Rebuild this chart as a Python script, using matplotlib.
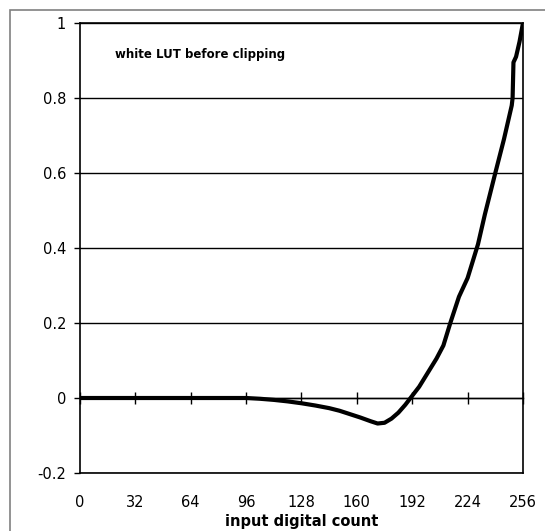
import matplotlib

matplotlib.use("Agg")
import matplotlib.pyplot as plt
from matplotlib.patches import Rectangle

# white LUT before clipping
digital_count = [0, 32, 64, 96, 104, 112, 120, 128, 136, 144, 150, 156, 162,
                 168, 172, 176, 180, 184, 188, 191, 196, 202, 206, 210, 214,
                 219, 224, 227, 230, 234, 237, 240, 245, 249.5, 250, 250.5,
                 252, 254, 256]
lut_value = [0.0, 0.0, 0.0, 0.0, -0.002, -0.005, -0.009, -0.014, -0.02,
             -0.027, -0.034, -0.043, -0.052, -0.062, -0.068, -0.066, -0.055,
             -0.039, -0.018, 0.0, 0.03, 0.075, 0.105, 0.14, 0.2, 0.27, 0.32,
             0.365, 0.41, 0.49, 0.545, 0.6, 0.69, 0.78, 0.8, 0.895, 0.91,
             0.95, 1.0]

x_ticks = [0, 32, 64, 96, 128, 160, 192, 224, 256]
y_ticks = [-0.2, 0, 0.2, 0.4, 0.6, 0.8, 1]
y_tick_labels = ["-0.2", "0", "0.2", "0.4", "0.6", "0.8", "1"]


def main() -> None:
    plt.rcParams["font.family"] = ["DejaVu Sans"]
    fig = plt.figure(figsize=(5.45, 5.31), dpi=100)
    ax = fig.add_axes([0.1468, 0.1092, 0.8128, 0.8475])

    # grey chart-area frame (right and bottom fall outside the picture)
    fig.patches.append(Rectangle((10 / 545, -0.1), 1.2, 521 / 531 + 0.1,
                                 transform=fig.transFigure, fill=False,
                                 edgecolor="#808080", linewidth=1.2))

    ax.plot(digital_count, lut_value, color="black", linewidth=3,
            solid_joinstyle="round", zorder=3)

    ax.set_xlim(0, 256)
    ax.set_ylim(-0.2, 1)
    ax.set_yticks(y_ticks)
    ax.set_yticklabels(y_tick_labels)
    ax.set_xticks(x_ticks)
    ax.tick_params(axis="x", length=0, pad=16, labelsize=10.5)
    ax.tick_params(axis="y", length=4, width=1, pad=6, labelsize=10.5,
                   direction="out")
    ax.grid(axis="y", color="black", linewidth=1)
    for s in ax.spines.values():
        s.set_linewidth(1.2)

    # tick marks crossing the zero line
    zero_axis = ax.secondary_xaxis(0.2 / 1.2)
    zero_axis.set_xticks(x_ticks)
    zero_axis.tick_params(axis="x", direction="inout", length=8, width=1,
                          labelbottom=False)
    zero_axis.spines["bottom"].set_linewidth(1)

    ax.set_xlabel("input digital count", fontsize=10.5, fontweight="bold",
                  labelpad=2.5)
    ax.text(0.079, 0.929, "white LUT before clipping", transform=ax.transAxes,
            fontsize=8.5, fontweight="bold", va="center", ha="left")

    fig.savefig("out.png", dpi=100)


if __name__ == "__main__":
    main()
